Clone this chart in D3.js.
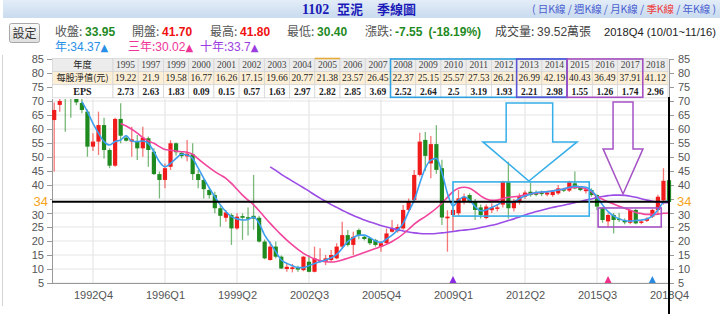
<!DOCTYPE html>
<html><head><meta charset="utf-8">
<script src="https://cdn.jsdelivr.net/npm/d3@7/dist/d3.min.js"></script>
<style>html,body{margin:0;padding:0;background:#fff;overflow:hidden}svg{display:block}</style>
</head><body><svg id="chart" width="720" height="314"></svg>
<script>
// ---------------- DATA ----------------
const quarters = [
"1991Q1","1991Q2","1991Q3","1991Q4","1992Q1","1992Q2","1992Q3","1992Q4",
"1993Q1","1993Q2","1993Q3","1993Q4","1994Q1","1994Q2","1994Q3","1994Q4",
"1995Q1","1995Q2","1995Q3","1995Q4","1996Q1","1996Q2","1996Q3","1996Q4",
"1997Q1","1997Q2","1997Q3","1997Q4","1998Q1","1998Q2","1998Q3","1998Q4",
"1999Q1","1999Q2","1999Q3","1999Q4","2000Q1","2000Q2","2000Q3","2000Q4",
"2001Q1","2001Q2","2001Q3","2001Q4","2002Q1","2002Q2","2002Q3","2002Q4",
"2003Q1","2003Q2","2003Q3","2003Q4","2004Q1","2004Q2","2004Q3","2004Q4",
"2005Q1","2005Q2","2005Q3","2005Q4","2006Q1","2006Q2","2006Q3","2006Q4",
"2007Q1","2007Q2","2007Q3","2007Q4","2008Q1","2008Q2","2008Q3","2008Q4",
"2009Q1","2009Q2","2009Q3","2009Q4","2010Q1","2010Q2","2010Q3","2010Q4",
"2011Q1","2011Q2","2011Q3","2011Q4","2012Q1","2012Q2","2012Q3","2012Q4",
"2013Q1","2013Q2","2013Q3","2013Q4","2014Q1","2014Q2","2014Q3","2014Q4",
"2015Q1","2015Q2","2015Q3","2015Q4","2016Q1","2016Q2","2016Q3","2016Q4",
"2017Q1","2017Q2","2017Q3","2017Q4","2018Q1","2018Q2","2018Q3","2018Q4"];

const open = [63.2,68.6,75,74,71.5,69.3,66.2,53.7,55.5,61.4,
52.5,46.9,63.6,56.9,55.5,55.7,53.1,56.7,51.9,43.9,
41.8,46.5,54.9,51.5,50.2,51,43.9,41.8,38.2,36.4,
31.7,28.3,29.3,24.5,28.9,28.5,29,28.3,19.8,13.2,
18,14.4,10,10,10.6,9.6,12.6,9,12.6,12.6,
13.2,13.8,18,22.1,18.6,23.9,21.5,21,20.4,18,
19.2,23.3,23.5,24.5,31.1,34.6,43.6,56.1,47.7,54.6,
46,28.1,29.3,29.9,34,36.4,34.2,32,28.2,31,
31.5,33,41,31.7,34,35.8,37.6,37.5,37.3,36.6,
36.4,37,38.5,38,40.6,39,37.8,38.2,36.4,31.7,
27,29.3,28,27.2,26.5,31.1,26.5,27.2,28.7,31.1,
34.5,41.7];
const close = [66.8,70,72.5,72,69.5,66.8,53.7,55.5,61.4,52.5,
46.9,63.6,57.6,55.8,56.3,53.1,56.9,52.5,43.9,41.8,
46,54.9,51.7,50.3,51.2,43.9,41.8,38.5,36.4,31.7,
29,30.2,24.5,28.7,28.3,28,28,19.8,13.8,18,
14.4,10.2,10.8,10.6,9.8,14.4,9,13.8,13.2,13.8,
15,18,22.1,18.6,21.5,22.1,20.7,19.2,18.6,19.2,
22.7,24.5,25,31.1,34,43.6,55.5,50.4,54.6,45.4,
28.4,28.7,31.1,35.2,35.8,34.2,31.1,29.3,32.3,32,
32,41.2,31.7,34.3,36,37.3,36.4,36.5,36.8,37.3,
37.6,38.8,38,41,38.8,38.2,38.4,36.4,32.3,27.5,
29.3,27.5,27.5,26.8,31.1,26.3,27,28,31.1,35.8,
41.5,33.95];
const high = [69.5,71,76,75,72,71,67,58.5,66.2,64,
53.1,64,69.2,57.9,60.8,57.9,60.8,57.3,53.1,44.8,
47.7,56,55.2,52,56.1,54.9,45.4,42.4,38.8,37.6,
32.9,31.1,29.9,29.9,29.9,32,43.6,29,20.5,19.8,
19.8,14.8,12,11.8,11.2,14.6,15,18,17.4,15,
16.8,19.2,26.9,23.9,23.3,24.5,22,21.2,20.8,19.8,
24.5,27.5,26,32.9,35.2,45.4,58.7,58.9,57.5,61.4,
49,31,31.7,38.2,37,37,35,33,33,33.5,
33,41.5,48.3,35,37,38,41,38,38,38,
38.2,40,39,41.5,44.8,39.5,39,38.8,36.6,32,
29.9,30,30,28,31.2,31.5,27.5,28.5,31.5,36.5,
46,41.8];
const low = [44.8,66.2,59,64,68.5,65.6,50.1,52.1,50.7,49.5,
46,46.5,54.9,55.5,50.1,48.9,50.1,46.5,43.6,35.2,
38.8,45.4,50.5,49.5,48.5,41.8,38.8,35.2,35.2,29.9,
25.1,26.9,18.6,24,20.4,22,24,19.5,13.5,13,
13.8,10,9,8.8,9,9.2,8.8,8.8,12.2,11.4,
12.6,13.5,17.5,18,15,20.6,20.2,18.6,18,16.2,
19,23,23,24,30.8,34,43,45,42.4,44,
25.7,16.2,23.3,29,33,33.5,27.5,28,27.8,30,
30.5,32,28,30.5,33,35,35.8,36,36,36,
35.8,36.5,37.5,37.5,38.5,37.8,37,35.8,31,26.5,
25,22.7,26.8,26,26,26,26,26.8,28.2,29.5,
33,30.4];

// moving-average lines (年 / 三年 / 十年)
const maYear = [null,null,null,null,null,69.8,66.2,62,58.5,55.5,
54.3,55.5,56.1,57.6,55.7,55.5,55.7,54.9,51.9,48.3,
46.5,47.7,49.5,51,50.7,49.5,46,42.4,39,35.8,
32.9,30.5,28.7,27.9,27.5,27.7,28.5,26.3,22.1,19.2,
16.2,13.2,12,11.2,10.5,10.5,11.2,12,12.6,13.2,
14,15.2,17.4,19.8,21.2,22.1,22.1,21.2,20,19.5,
20.7,22.1,23.9,26.3,30.5,34.6,40.6,46,48.9,49.5,
44.5,37,32.5,34.6,35.8,34.6,32.3,30.8,31.1,32,
32.9,34,33.7,34,35.2,36.1,36.8,37.3,37.5,37.6,
37.9,38.2,38.6,39.2,39.6,39.4,39.2,38,35.8,32.9,
30.5,29,27.9,27.3,27.1,27.3,27.5,27.9,28.9,31.1,
33.8,34.37];
const ma3Year = [null,null,null,null,null,null,null,null,null,null,
null,null,62,61.1,59.9,58.5,56.9,55.7,54.9,53.7,
52.7,52.4,52.1,51.9,51.7,51,49.3,47.7,46.2,44.8,
43.6,42.4,40.6,38.5,36.4,34.6,32.9,30.8,28.5,26.3,
24.2,22.2,20.3,18.6,17,15.6,14.5,13.6,13,12.6,
12.5,12.7,13.2,13.8,14.5,15.2,15.9,16.6,17.3,18,
18.8,19.8,21,22.5,24.2,26,27.5,28.7,30.1,31.7,
33.5,35.6,37.6,38.8,39.2,38.8,37.6,36.1,35,34.5,
34.6,35.2,35.6,35.8,36.1,36.5,36.9,37.1,37.4,37.6,
37.9,38.2,38.6,38.9,39.2,39.1,38.6,37.6,35.8,34.9,
34,33.2,32.4,31.7,31,30.2,29.8,29.5,29.5,29.6,
29.9,30.02];
const ma10Year = [null,null,null,null,null,null,null,null,null,null,
null,null,null,null,null,null,null,null,null,null,
null,null,null,null,null,null,null,null,null,null,
null,null,null,null,null,null,null,null,null,46.5,
45.2,43.8,42.6,41.4,40.2,39,37.8,36.5,35.3,34.2,
33,32,31,30,29.1,28.3,27.5,26.8,26.2,25.5,
25,24.5,24,23.6,23.2,22.9,22.7,22.6,22.6,22.7,
22.9,23.1,23.4,23.7,23.9,24.1,24.4,24.8,25.2,25.6,
26.1,26.7,27.3,27.9,28.6,29.3,29.9,30.5,31,31.5,
32,32.4,32.8,33.2,33.7,34.1,34.6,35,35.5,35.9,
36.2,36.4,36.4,36.3,36,35.6,35.1,34.6,34.2,33.9,
33.7,33.7];

const axisQuarters = ["1992Q4","1996Q1","1999Q2","2002Q3","2005Q4","2009Q1","2012Q2","2015Q3","2018Q4"];
const yTicks = [5,10,15,20,25,30,35,40,45,50,55,60,65,70,75,80,85];
const refLevel = 34;

const tableYears = ["1995","1997","1999","2000","2001","2002","2003","2004","2005","2006","2007","2008","2009","2010","2011","2012","2013","2014","2015","2016","2017","2018"];
const bookValue = [19.22,21.9,19.58,16.77,16.26,17.15,19.66,20.77,21.38,23.57,26.45,22.37,25.15,25.57,27.53,26.21,26.99,42.19,40.43,36.49,37.91,41.12];
const epsValues = [2.73,2.63,1.83,0.09,0.15,0.57,1.63,2.97,2.82,2.85,3.69,2.52,2.64,2.5,3.19,1.93,2.21,2.98,1.55,1.26,1.74,2.96];

const quoteLabels = ["收盤","開盤","最高","最低"];
const quoteValues = ["33.95","41.70","41.80","30.40"];
const maLabels = ["年","三年","十年"];
const maLast = ["34.37","30.02","33.7"];

// ---------------- DRAW ----------------
const SANS = '"Liberation Sans","Noto Sans CJK TC",Arial,sans-serif';
const SERIF = '"Liberation Serif","Noto Sans CJK TC",serif';
const CJK = '"Noto Sans CJK TC","Liberation Sans",sans-serif';
const RED = "#f01c1c", GREEN = "#1f8a1f";
const BLUE = "#3d9ff0", PINK = "#f2449c", PURPLE = "#9b4ce6";

const svg = d3.select("#chart");
const x = d3.scaleLinear().domain([0, quarters.length - 1]).range([54.2, 669]);
const y = d3.scaleLinear().domain([5, 85]).range([283, 59]);
const qi = q => quarters.indexOf(q);

const defs = svg.append("defs");
const g1 = defs.append("linearGradient").attr("id","hdr").attr("x1",0).attr("y1",0).attr("x2",0).attr("y2",1);
g1.append("stop").attr("offset","0%").attr("stop-color","#e3edf8");
g1.append("stop").attr("offset","100%").attr("stop-color","#c9dbef");
const g2 = defs.append("linearGradient").attr("id","btn").attr("x1",0).attr("y1",0).attr("x2",0).attr("y2",1);
g2.append("stop").attr("offset","0%").attr("stop-color","#fbfbfb");
g2.append("stop").attr("offset","100%").attr("stop-color","#dedede");

// header band
svg.append("rect").attr("x",3).attr("y",0).attr("width",717).attr("height",18).attr("fill","url(#hdr)");
svg.append("text").attr("x",302).attr("y",14).attr("fill","#1a1ab8").attr("font-family",SERIF)
  .attr("font-weight","bold").attr("font-size",14).text("1102");
svg.append("text").attr("x",337).attr("y",14).attr("fill","#1a1ab8").attr("font-family",CJK)
  .attr("font-weight","bold").attr("font-size",13).text("亞泥");
svg.append("text").attr("x",377).attr("y",14).attr("fill","#1a1ab8").attr("font-family",CJK)
  .attr("font-weight","bold").attr("font-size",13).text("季線圖");
const links = svg.append("text").attr("x",532).attr("y",12.5).attr("font-family",CJK).attr("font-size",10.5)
  .attr("textLength",184).attr("lengthAdjust","spacing").attr("fill","#4a5fd0");
[["( 日K線 / 週K線 / 月K線 / ","#4a5fd0"],["季K線","#f03c3c"],[" / 年K線 )","#4a5fd0"]].forEach(([t,c])=>{
  links.append("tspan").attr("fill",c).text(t);
});

// button
svg.append("rect").attr("x",9.5).attr("y",23.5).attr("width",30).attr("height",19).attr("rx",2)
  .attr("fill","url(#btn)").attr("stroke","#a8a8a8");
svg.append("text").attr("x",24.5).attr("y",37.5).attr("text-anchor","middle").attr("font-family",CJK)
  .attr("font-size",12).attr("fill","#333").text("設定");

// quote row
const quoteX = [55,132,210,287];
const quoteColor = [GREEN, "#f01010", "#f01010", GREEN];
quoteLabels.forEach((lab,i)=>{
  const t = svg.append("text").attr("x",quoteX[i]).attr("y",35.5).attr("font-size",12).attr("font-family",SANS);
  t.append("tspan").attr("fill","#555").attr("font-family",CJK).text(lab + ": ");
  t.append("tspan").attr("fill",quoteColor[i]).attr("font-weight","bold").text(quoteValues[i]);
});
{
  const t = svg.append("text").attr("x",365).attr("y",35.5).attr("font-size",12).attr("font-family",SANS);
  t.append("tspan").attr("fill","#555").attr("font-family",CJK).text("漲跌: ");
  t.append("tspan").attr("fill",GREEN).attr("font-weight","bold").text("-7.55");
  t.append("tspan").attr("fill",GREEN).attr("font-weight","bold").attr("dx",6).text("(-18.19%)");
  const v = svg.append("text").attr("x",495).attr("y",35.5).attr("font-size",12).attr("font-family",SANS).attr("fill","#444");
  v.append("tspan").attr("font-family",CJK).text("成交量: ");
  v.append("tspan").text("39.52");
  v.append("tspan").attr("font-family",CJK).text("萬張");
  svg.append("text").attr("x",716).attr("y",35.5).attr("text-anchor","end").attr("font-size",11.2)
    .attr("font-family",SANS).attr("fill","#222").text("2018Q4 (10/01~11/16)");
}
// MA legend row
const maX = [55,128,200];
const maColor = ["#2a8fe6","#f0359a","#9b3ee0"];
maLabels.forEach((lab,i)=>{
  const t = svg.append("text").attr("x",maX[i]).attr("y",51).attr("font-size",12).attr("font-family",SANS).attr("fill",maColor[i]);
  t.append("tspan").attr("font-family",CJK).text(lab + ":");
  t.append("tspan").text(maLast[i]);
  t.append("tspan").attr("font-family",'"DejaVu Sans",sans-serif').attr("font-size",10).text("▲");
});

// faint panel border on the far left
svg.append("line").attr("x1",2.5).attr("x2",2.5).attr("y1",55).attr("y2",306).attr("stroke","#d4d4d4");

// grid
const grid = svg.append("g");
grid.selectAll("line.h").data(yTicks).join("line").attr("class","h")
  .attr("x1",52).attr("x2",669).attr("y1",d=>y(d)).attr("y2",d=>y(d))
  .attr("stroke","#e6e6e6").attr("stroke-width",1.2);
grid.selectAll("line.v").data(axisQuarters).join("line").attr("class","v")
  .attr("x1",d=>x(qi(d))).attr("x2",d=>x(qi(d))).attr("y1",59).attr("y2",283)
  .attr("stroke","#e6e6e6").attr("stroke-width",1.2);

// axes (the 35 label sits under the highlighted 34 label, so it is not printed)
function styleAxis(g){
  g.attr("font-family",SANS).attr("font-size",11);
  g.selectAll(".tick line").attr("stroke","#999");
  g.selectAll("text").attr("fill","#555");
  g.select(".domain").attr("stroke","#999");
}
const yFmt = d => d === 35 ? "" : d;
const gl = svg.append("g").attr("transform","translate(52,0)")
  .call(d3.axisLeft(y).tickValues(yTicks).tickFormat(yFmt).tickSize(5).tickPadding(3).tickSizeOuter(0)).call(styleAxis);
const gr = svg.append("g").attr("transform","translate(669,0)")
  .call(d3.axisRight(y).tickValues(yTicks).tickFormat(yFmt).tickSize(5).tickPadding(4).tickSizeOuter(0)).call(styleAxis);
// the 30 label is partly tucked under the 34 marker, as in the source
[gl,gr].forEach(g=>g.selectAll(".tick").filter(d=>d===30).select("text").attr("dy","0.5em"));
const gb = svg.append("g").attr("transform","translate(0,283)")
  .call(d3.axisBottom(x).tickValues(axisQuarters.map(qi)).tickFormat(i=>quarters[i]).tickSize(0).tickPadding(8))
  .call(styleAxis);
gb.select(".domain").remove();
svg.append("line").attr("x1",52).attr("x2",669).attr("y1",283.5).attr("y2",283.5).attr("stroke","#999");

// candles
const candles = svg.append("g");
const idx = d3.range(quarters.length);
const col = i => close[i] >= open[i] ? RED : GREEN;
candles.selectAll("line").data(idx).join("line")
  .attr("x1",i=>x(i)).attr("x2",i=>x(i)).attr("y1",i=>y(high[i])).attr("y2",i=>y(low[i]))
  .attr("stroke",col).attr("stroke-opacity",0.6).attr("stroke-width",1.3);
candles.selectAll("rect").data(idx).join("rect")
  .attr("x",i=>x(i)-2.1).attr("width",4.2)
  .attr("y",i=>y(Math.max(open[i],close[i])))
  .attr("height",i=>Math.max(1.5, Math.abs(y(open[i])-y(close[i]))))
  .attr("fill",col);

// moving averages
const line = d3.line().defined(v=>v!=null).x((v,i)=>x(i)).y(v=>y(v)).curve(d3.curveMonotoneX);
[[ma10Year,PURPLE],[ma3Year,PINK],[maYear,BLUE]].forEach(([arr,c])=>{
  svg.append("path").attr("d",line(arr)).attr("fill","none").attr("stroke",c).attr("stroke-width",1.6);
});

// reference line at 34
svg.append("line").attr("x1",52).attr("x2",669).attr("y1",y(refLevel)).attr("y2",y(refLevel))
  .attr("stroke","#000").attr("stroke-width",2);

// annotations (in data coordinates)
const ann = svg.append("g").attr("fill","none");
function box(i0,i1,lo,hi,c){
  ann.append("rect").attr("x",x(i0)).attr("y",y(hi)).attr("width",x(i1)-x(i0)).attr("height",y(lo)-y(hi))
    .attr("stroke",c).attr("stroke-width",1.6);
}
function arrow(sl,sr,hl,hr,tip,top,mid,tipv,c){
  const p = d3.path();
  p.moveTo(x(sl),y(top)); p.lineTo(x(sr),y(top)); p.lineTo(x(sr),y(mid)); p.lineTo(x(hr),y(mid));
  p.lineTo(x(tip),y(tipv)); p.lineTo(x(hl),y(mid)); p.lineTo(x(sl),y(mid)); p.closePath();
  ann.append("path").attr("d",p.toString()).attr("stroke",c).attr("stroke-width",1.5);
}
box(qi("2009Q1"), 96.6, 28.9, 41.1, "#36aee8");
arrow(81.6, 90, 77.4, 94.4, 85.7, 69.3, 55.4, 41.4, "#36aee8");
box(98.2, 109.6, 25, 31.8, "#a553c5");
arrow(100.9, 104.5, 99.1, 106.3, 102.7, 69.6, 52.9, 36.8, "#a553c5");

// window-start markers
[["2009Q1","#8a2be2"],["2016Q1","#f0308a"],["2018Q1","#2a8ae0"]].forEach(([q,c])=>{
  const cx = x(qi(q));
  svg.append("path").attr("d",`M${cx-3.5},283 L${cx+3.5},283 L${cx},276 Z`).attr("fill",c);
});

// table overlay
const tb = svg.append("g");
const colX = d3.scaleBand().domain(tableYears).range([113,668]);
const rowTop = [58.5, 71.6, 84.7], rowH = 13.1;
const rows = [
  {label:"年度", vals:tableYears, fill:"#ececec", bold:false},
  {label:"每股淨值(元)", vals:bookValue.map(String), fill:"#fcefd5", bold:false},
  {label:"EPS", vals:epsValues.map(String), fill:"#ffffff", bold:true}
];
tb.append("rect").attr("x",52).attr("y",57).attr("width",617).attr("height",42).attr("fill","#fff");
rows.forEach((r,ri)=>{
  tb.append("rect").attr("x",52.5).attr("y",rowTop[ri]).attr("width",60.5).attr("height",rowH)
    .attr("fill",r.fill).attr("stroke","#d6d6d6").attr("stroke-width",0.8);
  tb.append("text").attr("x",82.5).attr("y",rowTop[ri]+rowH/2).attr("dy","0.35em").attr("text-anchor","middle")
    .attr("font-family", ri===2 ? SERIF : CJK).attr("font-weight", r.bold ? "bold":"normal")
    .attr("font-size", ri===2 ? 10 : 9.2).attr("fill","#222").text(r.label);
  tb.selectAll(null).data(tableYears).join("rect")
    .attr("x",d=>colX(d)).attr("y",rowTop[ri]).attr("width",colX.bandwidth()).attr("height",rowH)
    .attr("fill",r.fill).attr("stroke","#d6d6d6").attr("stroke-width",0.8);
  tb.selectAll(null).data(r.vals).join("text")
    .attr("x",(d,i)=>colX(tableYears[i])+colX.bandwidth()/2).attr("y",rowTop[ri]+rowH/2).attr("dy","0.35em")
    .attr("text-anchor","middle").attr("font-family",SERIF).attr("font-size",9.5)
    .attr("font-weight", r.bold ? "bold":"normal").attr("fill", ri===0 ? "#444" : "#222").text(d=>d);
});
tb.append("line").attr("x1",colX("2005")).attr("x2",colX("2005")+colX.bandwidth())
  .attr("y1",rowTop[0]).attr("y2",rowTop[0]).attr("stroke","#e4aa3c").attr("stroke-width",1.6);
function tbox(a,b,c){
  tb.append("rect").attr("x",colX(a)).attr("y",rowTop[0]+0.5).attr("width",colX(b)+colX.bandwidth()-colX(a))
    .attr("height",rowTop[2]+rowH-rowTop[0]-1).attr("fill","none").attr("stroke",c).attr("stroke-width",1.6);
}
tbox("2008","2014","#2ea2e2");
tbox("2013","2014","#5b55d6");
tbox("2015","2017","#a54fc2");

// current-quarter marker line on the right edge
svg.append("line").attr("x1",669).attr("x2",669).attr("y1",97).attr("y2",314).attr("stroke","#000").attr("stroke-width",2);

// 34 labels
svg.append("rect").attr("x",28).attr("y",y(refLevel)-7).attr("width",22).attr("height",12.5).attr("fill","#fff");
svg.append("text").attr("x",48).attr("y",y(refLevel)).attr("dy","0.34em").attr("text-anchor","end")
  .attr("font-family",SANS).attr("font-size",13).attr("fill","#f5a31c").text(refLevel);
svg.append("rect").attr("x",674).attr("y",y(refLevel)-7).attr("width",22).attr("height",12.5).attr("fill","#fff");
svg.append("text").attr("x",677).attr("y",y(refLevel)).attr("dy","0.34em")
  .attr("font-family",SANS).attr("font-size",13).attr("fill","#f5a31c").text(refLevel);
</script></body></html>
